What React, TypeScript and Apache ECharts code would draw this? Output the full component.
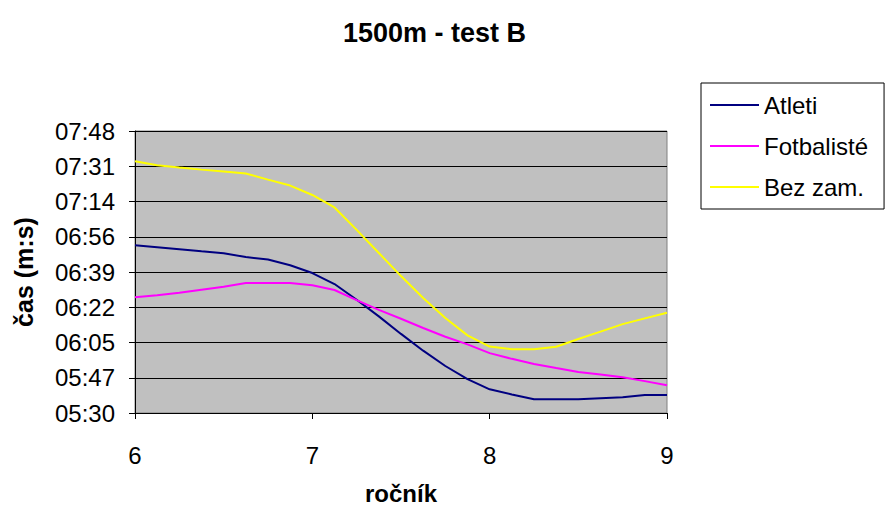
import React, { useEffect, useRef } from "react";
import * as echarts from "echarts";

// Age (ročník) sample positions along the x axis
const ages = [
  6, 6.125, 6.25, 6.375, 6.5, 6.625, 6.75, 6.875,
  7, 7.125, 7.25, 7.375, 7.5, 7.625, 7.75, 7.875,
  8, 8.125, 8.25, 8.375, 8.5, 8.625, 8.75, 8.875, 9,
];

// 1500 m times in seconds
const atleti = [
  412.1, 411.1, 410.1, 409.1, 408.2, 406.3, 405.1, 402.3,
  398.5, 393.1, 385.4, 377.3, 368.7, 360.5, 353.0, 346.6,
  341.6, 339.1, 336.7, 336.7, 336.7, 337.2, 337.7, 338.8, 338.8,
];
const fotbaliste = [
  386.6, 387.6, 388.8, 390.3, 391.8, 393.6, 393.6, 393.6,
  392.5, 390.2, 385.2, 380.5, 376.1, 371.6, 367.3, 363.6,
  359.3, 356.5, 354.0, 352.0, 350.1, 348.8, 347.5, 345.6, 343.6,
];
const bezZam = [
  453.2, 451.2, 450.1, 449.1, 448.2, 447.2, 444.2, 441.3,
  436.7, 430.6, 419.6, 408.3, 397.0, 386.3, 376.5, 368.0,
  362.5, 361.2, 361.2, 362.4, 366.2, 369.8, 373.5, 376.3, 379.1,
];

const seriesNames = ["Atleti", "Fotbalisté", "Bez zam."];
const seriesColors = ["#000080", "#FF00FF", "#FFFF00"];

// Time axis: 05:30 .. 07:48 in eight equal steps
const timeMin = 330;
const timeMax = 468;
const timeStep = 17.25;

const FONT = "'Liberation Sans', Arial, sans-serif";

const fmtTime = (sec: number) => {
  const s = Math.round(sec);
  const m = Math.floor(s / 60);
  const r = s % 60;
  return `${String(m).padStart(2, "0")}:${String(r).padStart(2, "0")}`;
};

export default function App() {
  const ref = useRef<HTMLDivElement>(null);

  useEffect(() => {
    if (!ref.current) return;
    const chart = echarts.init(ref.current, undefined, { renderer: "svg" });
    const toData = (vals: number[]) => ages.map((a, i) => [a, vals[i] - timeMin]);
    const all = [atleti, fotbaliste, bezZam];

    chart.setOption({
      animation: false,
      backgroundColor: "#ffffff",
      title: {
        text: "1500m - test B",
        left: 338,
        top: 14,
        textStyle: { fontFamily: FONT, fontSize: 27, fontWeight: "bold", color: "#000" },
      },
      legend: {
        orient: "vertical",
        left: 701,
        top: 83,
        padding: [10, 16, 10, 9],
        itemGap: 17,
        itemWidth: 49,
        itemHeight: 2,
        icon: "rect",
        backgroundColor: "#fff",
        borderColor: "#000",
        borderWidth: 1,
        textStyle: { fontFamily: FONT, fontSize: 24, color: "#000" },
        data: seriesNames,
      },
      grid: {
        left: 135,
        top: 131,
        width: 532,
        height: 282,
        outerBoundsMode: "none",
        containLabel: false,
        show: true,
        backgroundColor: "#C0C0C0",
        borderColor: "#808080",
        borderWidth: 1,
      },
      xAxis: {
        type: "value",
        min: 6,
        max: 9,
        interval: 1,
        name: "ročník",
        nameLocation: "middle",
        nameGap: 68,
        nameTextStyle: { fontFamily: FONT, fontSize: 24, fontWeight: "bold", color: "#000" },
        axisLine: { lineStyle: { color: "#000", width: 1 } },
        axisTick: { show: true, length: 6, lineStyle: { color: "#000" } },
        axisLabel: { fontFamily: FONT, fontSize: 24, color: "#000", margin: 30 },
        splitLine: { show: false },
      },
      yAxis: {
        type: "value",
        min: 0,
        max: timeMax - timeMin,
        interval: timeStep,
        name: "čas (m:s)",
        nameLocation: "middle",
        nameGap: 99,
        nameTextStyle: { fontFamily: FONT, fontSize: 25, fontWeight: "bold", color: "#000" },
        axisLine: { show: true, lineStyle: { color: "#000", width: 1 } },
        axisTick: { show: true, length: 6, lineStyle: { color: "#000" } },
        axisLabel: {
          fontFamily: FONT,
          fontSize: 24,
          color: "#000",
          margin: 20,
          formatter: (v: number) => fmtTime(v + timeMin),
        },
        splitLine: { show: true, lineStyle: { color: "#000", width: 1 } },
      },
      series: seriesNames.map((name, i) => ({
        name,
        type: "line",
        data: toData(all[i]),
        symbol: "none",
        smooth: false,
        lineStyle: { color: seriesColors[i], width: 2 },
        itemStyle: { color: seriesColors[i] },
      })),
    });

    return () => chart.dispose();
  }, []);

  return (
    <div
      ref={ref}
      style={{ position: "fixed", left: 0, top: 0, width: 885, height: 509 }}
    />
  );
}
